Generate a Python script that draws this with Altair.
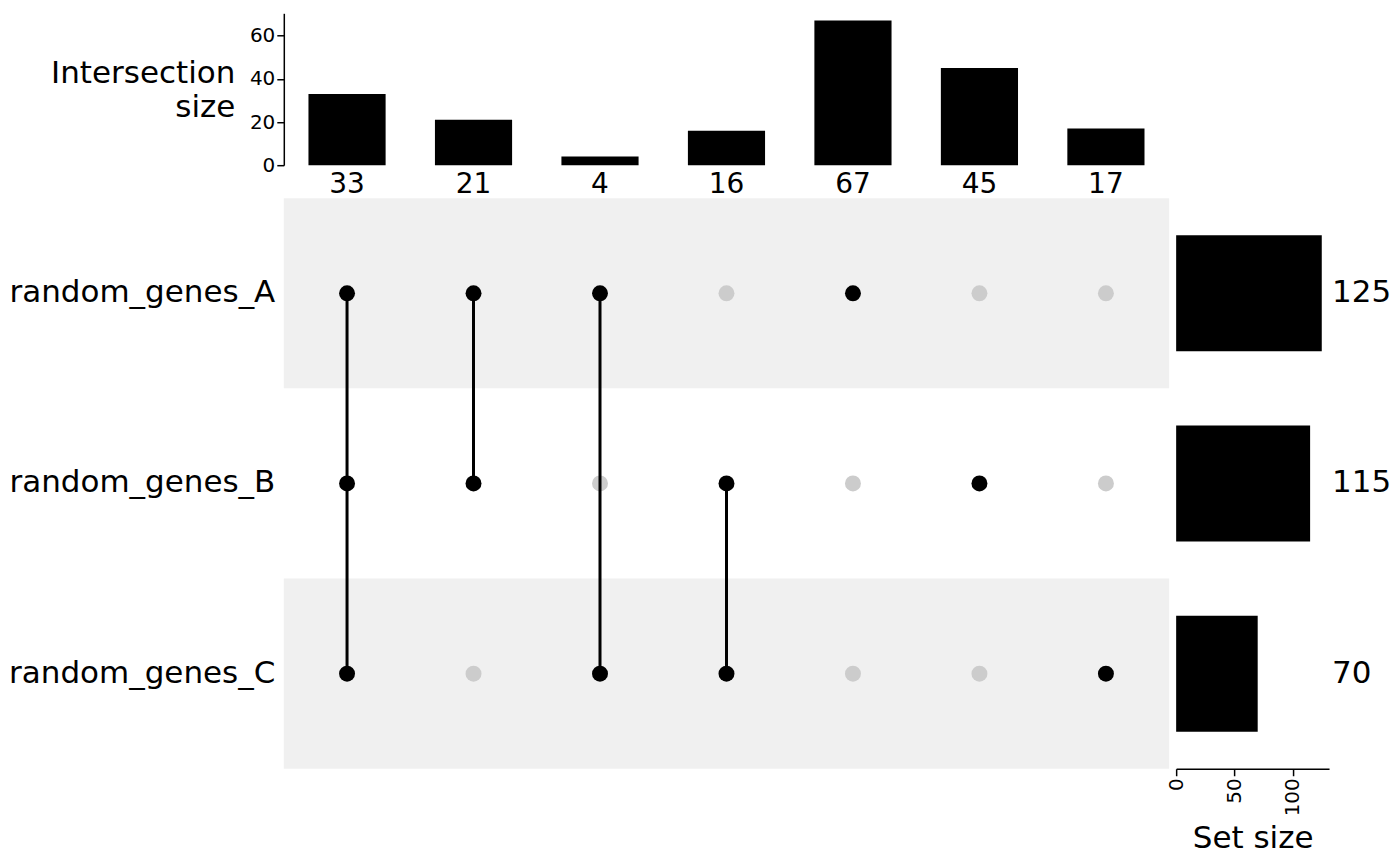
import altair as alt
import pandas as pd

# ---------------- data ----------------
sets = ["random_genes_A", "random_genes_B", "random_genes_C"]
set_sizes = [125, 115, 70]
intersections = ["A&B&C", "A&B", "A&C", "B&C", "A", "B", "C"]
inter_sizes = [33, 21, 4, 16, 67, 45, 17]
# membership[i][s] = 1 if intersection i contains set s
membership = [
    [1, 1, 1],
    [1, 1, 0],
    [1, 0, 1],
    [0, 1, 1],
    [1, 0, 0],
    [0, 1, 0],
    [0, 0, 1],
]
stripe = [True, False, True]

# ---------------- tables ----------------
top_df = pd.DataFrame({"inter": intersections, "size": inter_sizes})
set_df = pd.DataFrame({"set": sets, "size": set_sizes, "stripe": stripe})
rows = []
for i, name in enumerate(intersections):
    for s, sname in enumerate(sets):
        rows.append({"inter": name, "set": sname, "member": membership[i][s], "order": s})
mat_df = pd.DataFrame(rows)

FONT = "DejaVu Sans"
BIG = 31
LAB = 31
CNT = 28
TICK = 20
MAT_W, MAT_H = 886, 571
TOP_H = 152
SS_W = 153
DOT = 255

x_top = alt.X("inter:N", sort=intersections, axis=None,
              scale=alt.Scale(paddingInner=0.39, paddingOuter=0.195))

top_bars = alt.Chart(top_df).mark_bar(color="black").encode(
    x=x_top,
    y=alt.Y("size:Q", scale=alt.Scale(domain=[0, 70.35], nice=False),
            axis=alt.Axis(values=[0, 20, 40, 60], grid=False, domainColor="black",
                          domainWidth=1.5, tickColor="black", tickWidth=1.5, tickSize=7,
                          labelFontSize=TICK, labelColor="black", labelFont=FONT,
                          title=["Intersection", "size"], titleAngle=0, titleAlign="right",
                          titleBaseline="middle", titleX=-49, titleY=60,
                          titleFontSize=BIG, titleFontWeight="normal", titleFont=FONT,
                          titleColor="black", titleLineHeight=34)),
)
top_text = alt.Chart(top_df).mark_text(baseline="top", dy=6, fontSize=CNT, font=FONT,
                                       color="black").encode(
    x=x_top,
    y=alt.datum(0),
    text="size:Q",
)
top = alt.layer(top_bars, top_text).properties(width=MAT_W, height=TOP_H)

# matrix
x_mat = alt.X("inter:N", sort=intersections, axis=None,
              scale=alt.Scale(paddingInner=0, paddingOuter=0))
y_mat = alt.Y("set:N", sort=sets,
              scale=alt.Scale(paddingInner=0, paddingOuter=0),
              axis=alt.Axis(title=None, domain=False, ticks=False, labelFontSize=LAB,
                            labelFont=FONT, labelColor="black", labelPadding=9,
                            labelLimit=0))

stripes = alt.Chart(set_df).transform_filter("datum.stripe").mark_rect(color="#f0f0f0").encode(
    y=y_mat
)
dots_bg = alt.Chart(mat_df).transform_filter("datum.member == 0").mark_circle(
    size=DOT, color="#cccccc", opacity=1).encode(x=x_mat, y=y_mat)
lines = alt.Chart(mat_df).transform_filter("datum.member == 1").mark_line(
    color="black", strokeWidth=3).encode(x=x_mat, y=y_mat, detail="inter:N", order="order:Q")
dots_fg = alt.Chart(mat_df).transform_filter("datum.member == 1").mark_circle(
    size=DOT, color="black", opacity=1).encode(x=x_mat, y=y_mat)
matrix = alt.layer(stripes, dots_bg, lines, dots_fg).properties(width=MAT_W, height=MAT_H)

# set sizes
y_ss = alt.Y("set:N", sort=sets, axis=None,
             scale=alt.Scale(paddingInner=0.39, paddingOuter=0.195))
ss_bars = alt.Chart(set_df).mark_bar(color="black").encode(
    y=y_ss,
    x=alt.X("size:Q", scale=alt.Scale(domain=[0, 131.25], nice=False),
            axis=alt.Axis(values=[0, 50, 100], grid=False, domainColor="black",
                          domainWidth=1.5, tickColor="black", tickWidth=1.5, tickSize=7,
                          labelAngle=270, labelFontSize=TICK, labelColor="black",
                          labelFont=FONT, title="Set size", titleFontSize=BIG,
                          titleFontWeight="normal", titleFont=FONT, titleColor="black",
                          titlePadding=8)),
)
ss_text = alt.Chart(set_df).mark_text(align="left", baseline="middle", fontSize=BIG,
                                      font=FONT, color="black").encode(
    y=y_ss,
    x=alt.value(SS_W + 3),
    text="size:Q",
)
setsize = alt.layer(ss_bars, ss_text).properties(width=SS_W, height=MAT_H)

bottom = alt.hconcat(matrix, setsize, spacing=7, bounds="flush")
chart = alt.vconcat(top, bottom, spacing=33, bounds="flush").properties(
    padding={"left": 0, "top": 5, "right": 0, "bottom": 0}
).configure_view(strokeWidth=0)

chart.save("out.html", embed_options={"renderer": "svg", "actions": False})
